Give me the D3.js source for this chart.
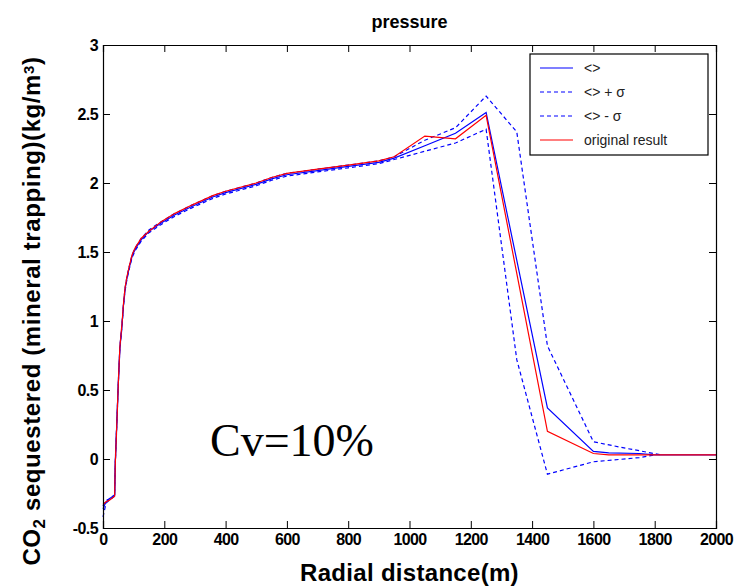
<!DOCTYPE html>
<html>
<head>
<meta charset="utf-8">
<script src="https://cdn.jsdelivr.net/npm/d3@7"></script>
<style>
  body { margin: 0; background: #fff; }
  svg { display: block; }
</style>
</head>
<body>
<svg id="chart" width="738" height="586"></svg>
<script>
"use strict";

// shared early part of the profile (0 - 950 m), all curves overlap here
const coreDistance = [0, 10, 20, 38, 40, 45, 50, 55, 62, 67, 72, 78, 86, 95, 105, 125, 150, 190, 235, 290, 360, 400, 500, 550, 600, 700, 800, 900, 950];
const coreOriginal = [-0.33, -0.31, -0.30, -0.27, -0.04, 0.25, 0.55, 0.81, 0.98, 1.13, 1.24, 1.32, 1.40, 1.48, 1.53, 1.60, 1.65, 1.72, 1.78, 1.84, 1.91, 1.94, 2.00, 2.04, 2.07, 2.10, 2.13, 2.16, 2.19];
const coreMean = [-0.36, -0.31, -0.29, -0.26, -0.03, 0.26, 0.55, 0.80, 0.97, 1.12, 1.23, 1.31, 1.39, 1.47, 1.52, 1.59, 1.65, 1.71, 1.77, 1.83, 1.90, 1.93, 1.99, 2.03, 2.06, 2.09, 2.12, 2.15, 2.18];
const corePlus = [-0.34, -0.30, -0.29, -0.26, -0.02, 0.27, 0.56, 0.81, 0.98, 1.13, 1.24, 1.32, 1.40, 1.48, 1.53, 1.60, 1.66, 1.72, 1.78, 1.84, 1.91, 1.94, 2.00, 2.04, 2.07, 2.10, 2.13, 2.16, 2.19];
const coreMinus = [-0.42, -0.32, -0.30, -0.27, -0.05, 0.24, 0.54, 0.79, 0.96, 1.11, 1.22, 1.30, 1.38, 1.46, 1.51, 1.58, 1.64, 1.70, 1.76, 1.82, 1.89, 1.92, 1.98, 2.02, 2.05, 2.08, 2.11, 2.14, 2.17];

// tails beyond 950 m
const originalTailDistance = [1050, 1150, 1250, 1450, 1600, 1650, 2000];
const originalTail = [2.34, 2.32, 2.49, 0.20, 0.04, 0.03, 0.03];
const meanTailDistance = [1050, 1150, 1250, 1450, 1600, 1650, 1750, 1800, 2000];
const meanTail = [2.27, 2.36, 2.51, 0.37, 0.055, 0.045, 0.04, 0.03, 0.03];
const plusTailDistance = [1050, 1150, 1250, 1350, 1450, 1600, 1700, 1750, 1820];
const plusTail = [2.31, 2.40, 2.63, 2.37, 0.82, 0.125, 0.08, 0.06, 0.03];
const minusTailDistance = [1050, 1150, 1250, 1350, 1450, 1600, 1750, 1800];
const minusTail = [2.23, 2.29, 2.39, 0.72, -0.11, -0.02, 0.01, 0.03];

const xTicks = [0, 200, 400, 600, 800, 1000, 1200, 1400, 1600, 1800, 2000];
const yTicks = [-0.5, 0, 0.5, 1, 1.5, 2, 2.5, 3];

const legendLabels = ["<>", "<> + \u03c3", "<> - \u03c3", "original result"];

const BLUE = "#0000ff",
    RED = "#ff0000";

function toPoints(xs, ys) {
    return xs.map((x, i) => ({ x: x, y: ys[i] }));
}

const series = [
    { name: legendLabels[0], color: BLUE, dash: null, points: toPoints(coreDistance.concat(meanTailDistance), coreMean.concat(meanTail)) },
    { name: legendLabels[1], color: BLUE, dash: "4,3", points: toPoints(coreDistance.concat(plusTailDistance), corePlus.concat(plusTail)) },
    { name: legendLabels[2], color: BLUE, dash: "4,3", points: toPoints(coreDistance.concat(minusTailDistance), coreMinus.concat(minusTail)) },
    { name: legendLabels[3], color: RED, dash: null, points: toPoints(coreDistance.concat(originalTailDistance), coreOriginal.concat(originalTail)) }
];

const margin = { left: 103, right: 22, top: 45, bottom: 58 };
const W = 738, H = 586;

const svg = d3.select("#chart");

const x = d3.scaleLinear().domain([0, 2000]).range([margin.left, W - margin.right]);
const y = d3.scaleLinear().domain([-0.5, 3]).range([H - margin.bottom, margin.top]);

const tickFont = "'Liberation Sans Narrow', 'Arial Narrow', sans-serif";
const labelFont = "'Liberation Sans', Arial, sans-serif";

// lines
const line = d3.line().x(d => x(d.x)).y(d => y(d.y));

svg.append("g")
    .selectAll("path")
    .data(series)
    .enter()
    .append("path")
    .attr("d", s => line(s.points))
    .attr("fill", "none")
    .attr("stroke", s => s.color)
    .attr("stroke-width", 1.2)
    .attr("stroke-dasharray", s => s.dash);

// axes, ticks pointing inward
const bottomAxis = d3.axisBottom(x).tickValues(xTicks).tickSize(-7).tickPadding(6).tickFormat(d => String(d));
const leftAxis = d3.axisLeft(y).tickValues(yTicks).tickSize(-7).tickPadding(5).tickFormat(d => String(d));
const topAxis = d3.axisTop(x).tickValues(xTicks).tickSize(-7).tickFormat("");
const rightAxis = d3.axisRight(y).tickValues(yTicks).tickSize(-7).tickFormat("");

function styleAxis(g) {
    g.select(".domain").attr("stroke", "#000").attr("stroke-width", 1.2);
    g.selectAll(".tick line").attr("stroke", "#000").attr("stroke-width", 1);
    g.selectAll("text")
        .attr("fill", "#000")
        .attr("font-family", tickFont)
        .attr("font-weight", "bold")
        .attr("font-size", 16)
        .attr("letter-spacing", "-0.6px");
}

svg.append("g").attr("transform", `translate(0,${y(-0.5)})`).call(bottomAxis).call(styleAxis);
svg.append("g").attr("transform", `translate(${x(0)},0)`).call(leftAxis).call(styleAxis);
svg.append("g").attr("transform", `translate(0,${y(3)})`).call(topAxis).call(styleAxis);
svg.append("g").attr("transform", `translate(${x(2000)},0)`).call(rightAxis).call(styleAxis);

// title
svg.append("text")
    .attr("x", (x(0) + x(2000)) / 2)
    .attr("y", 28)
    .attr("text-anchor", "middle")
    .attr("font-family", labelFont)
    .attr("font-weight", "bold")
    .attr("font-size", 18)
    .text("pressure");

// x label
svg.append("text")
    .attr("x", (x(0) + x(2000)) / 2)
    .attr("y", 581)
    .attr("text-anchor", "middle")
    .attr("font-family", labelFont)
    .attr("font-weight", "bold")
    .attr("font-size", 24)
    .attr("letter-spacing", "0.3px")
    .text("Radial distance(m)");

// y label
const yLabel = svg.append("text")
    .attr("transform", `translate(40,311) rotate(-90)`)
    .attr("text-anchor", "middle")
    .attr("font-family", labelFont)
    .attr("font-weight", "bold")
    .attr("font-size", 24)
    .attr("letter-spacing", "0.6px");
yLabel.append("tspan").text("CO");
yLabel.append("tspan").attr("baseline-shift", "-30%").attr("font-size", 17).text("2");
yLabel.append("tspan").text(" sequestered (mineral trapping)(kg/m");
yLabel.append("tspan").attr("baseline-shift", "40%").attr("font-size", 15).text("3");
yLabel.append("tspan").text(")");

// annotation
svg.append("text")
    .attr("x", 210)
    .attr("y", 456)
    .attr("font-family", "'Liberation Serif', 'Times New Roman', serif")
    .attr("font-size", 46)
    .text("Cv=10%");

// legend
const legend = svg.append("g").attr("transform", "translate(530,54)");
legend.append("rect")
    .attr("width", 178)
    .attr("height", 101)
    .attr("fill", "#fff")
    .attr("stroke", "#000")
    .attr("stroke-width", 1.2);

const item = legend.selectAll("g.item")
    .data(series)
    .enter()
    .append("g")
    .attr("class", "item")
    .attr("transform", (d, i) => `translate(0,${14 + i * 24})`);

item.append("line")
    .attr("x1", 10)
    .attr("x2", 43)
    .attr("stroke", d => d.color)
    .attr("stroke-width", 1.2)
    .attr("stroke-dasharray", d => d.dash);

item.append("text")
    .attr("x", 54)
    .attr("y", 5)
    .attr("font-family", labelFont)
    .attr("font-size", 14)
    .attr("fill", "#222")
    .text(d => d.name);
</script>
</body>
</html>
